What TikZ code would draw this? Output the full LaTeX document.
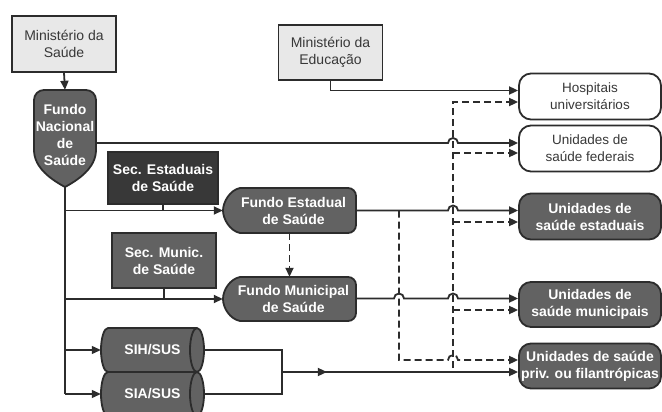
\documentclass[tikz,border=0pt]{standalone}
\usepackage{fontspec}
\setmainfont{Liberation Sans}
\usetikzlibrary{arrows.meta,calc,decorations.markings}
\definecolor{lin}{HTML}{2C2C2C}
\definecolor{lbox}{HTML}{E8E8E8}
\definecolor{dbox}{HTML}{626262}
\definecolor{vdbox}{HTML}{383838}
\definecolor{txt}{HTML}{383838}
\begin{document}
\begin{tikzpicture}[x=1pt,y=-1pt,
  every node/.style={align=center, inner sep=0pt},
  fnt/.style={font=\fontsize{14}{17}\selectfont},
  bfnt/.style={font=\bfseries\fontsize{14}{17}\selectfont},
  lightbox/.style={fnt, draw=lin, fill=lbox, line width=1.8pt, text=txt, minimum width=104pt, minimum height=56pt},
  secbox/.style={bfnt, draw=lin, line width=1.8pt, text=white},
  shapefill/.style={draw=lin, fill=dbox, line width=1.8pt},
  shapetext/.style={bfnt, text=white},
  unitbox/.style={draw=lin, line width=1.8pt, rounded corners=12pt, minimum width=142pt, minimum height=46pt},
  whiteunit/.style={unitbox, fill=white, text=txt, font=\fontsize{13.5}{17}\selectfont},
  darkunit/.style={unitbox, fill=dbox, text=white, bfnt},
  conn/.style={draw=lin, line width=1.8pt},
  thin/.style={draw=lin, line width=1.2pt},
  arr/.style={-{Triangle[length=9pt,width=8pt]}},
  dsh/.style={dash pattern=on 7pt off 4pt},
  midarrow/.style={postaction={decorate}, decoration={markings, mark=at position 0.19 with {\arrow{Triangle[length=9pt,width=8pt]}}}}
]
\clip (0,0) rectangle (662,412);
\fill[white] (0,0) rectangle (662,412);

% ---------- custom shapes ----------
% Fundo Nacional de Saude (shield)
\path[shapefill] (34,150) -- (34,100) arc[start angle=180,end angle=90,radius=10pt] -- (86,90)
  arc[start angle=90,end angle=0,radius=10pt] -- (96,150)
  .. controls (96,168) and (78,180) .. (65,187)
  .. controls (52,180) and (34,168) .. (34,150) -- cycle;
% Fundo Estadual
\path[shapefill] (240,188) -- (348,188) arc[start angle=90,end angle=0,radius=8pt] -- (356,225)
  arc[start angle=0,end angle=-90,radius=8pt] -- (240,233)
  .. controls (230,231) and (223,219) .. (223,210.5)
  .. controls (223,202) and (230,190) .. (240,188) -- cycle;
% Fundo Municipal
\path[shapefill] (240,277) -- (348,277) arc[start angle=90,end angle=0,radius=8pt] -- (356,313)
  arc[start angle=0,end angle=-90,radius=8pt] -- (240,321)
  .. controls (230,319) and (223,308) .. (223,299)
  .. controls (223,290) and (230,279) .. (240,277) -- cycle;
% cylinders SIH / SIA
\path[shapefill] (108,328) -- (197,328) arc[start angle=90,end angle=-90,x radius=7pt,y radius=22pt]
  -- (108,372) arc[start angle=270,end angle=90,x radius=7pt,y radius=22pt] -- cycle;
\draw[draw=lin, line width=1.8pt] (197,328) arc[start angle=90,end angle=270,x radius=7pt,y radius=22pt];
\path[shapefill] (108,372) -- (197,372) arc[start angle=90,end angle=-90,x radius=7pt,y radius=22pt]
  -- (108,416) arc[start angle=270,end angle=90,x radius=7pt,y radius=22pt] -- cycle;
\draw[draw=lin, line width=1.8pt] (197,372) arc[start angle=90,end angle=270,x radius=7pt,y radius=22pt];

% ---------- nodes ----------
\node[lightbox] (ms) at (64,44) {Ministério da\\Saúde};
\node[lightbox, minimum height=55pt] (me) at (330.5,52.5) {Ministério da\\Educação};
\node[shapetext, minimum width=62pt, minimum height=90pt] (fns) at (65,135) {Fundo\\Nacional\\de\\Saúde};
\coordinate (fnsb) at (65,187);
\node[secbox, fill=vdbox, minimum width=110pt, minimum height=52pt] (se) at (163,178) {Sec. Estaduais\\de Saúde};
\node[secbox, fill=dbox, minimum width=104pt, minimum height=55pt] (sm) at (164,260.5) {Sec. Munic.\\de Saúde};
\node[shapetext, minimum width=133pt, minimum height=45pt] (fe) at (289.5,210.5) {\hspace*{8pt}Fundo Estadual\\\hspace*{8pt}de Saúde};
\node[shapetext, minimum width=133pt, minimum height=44pt] (fm) at (289.5,299) {\hspace*{8pt}Fundo Municipal\\\hspace*{8pt}de Saúde};
\node[shapetext, minimum width=103pt, minimum height=44pt] (sih) at (152.5,350) {SIH/SUS};
\node[shapetext, minimum width=103pt, minimum height=44pt] (sia) at (152.5,394) {SIA/SUS};

\node[whiteunit] (hosp) at (590,96.5) {Hospitais\\universitários};
\node[whiteunit] (fed) at (590,148.5) {Unidades de\\saúde federais};
\node[darkunit] (est) at (590,216.5) {Unidades de\\saúde estaduais};
\node[darkunit, minimum height=45pt] (mun) at (590,304.5) {Unidades de\\saúde municipais};
\node[darkunit, minimum height=45pt] (priv) at (590,366) {Unidades de saúde\\priv. ou filantrópicas};

% lane coordinates
\coordinate (hospS) at ([yshift=6pt]hosp.west);
\coordinate (hospD) at ([yshift=-5.5pt]hosp.west);
\coordinate (fedS) at ([yshift=5.5pt]fed.west);
\coordinate (fedD) at ([yshift=-4.5pt]fed.west);
\coordinate (estS) at ([yshift=6pt]est.west);
\coordinate (estD) at ([yshift=-5.5pt]est.west);
\coordinate (munS) at ([yshift=6pt]mun.west);
\coordinate (munD) at ([yshift=-5.5pt]mun.west);
\coordinate (privD) at ([yshift=6pt]priv.west);
\coordinate (privS) at ([yshift=-6pt]priv.west);
\coordinate (dv) at (453,0);
\coordinate (dv2) at (399,0);
\coordinate (br) at (282,372);

% ---------- connectors ----------
\draw[conn, arr] (ms.south) -- (fns.north);
\draw[conn, arr] (me.south) |- (hospS);
\draw[conn, arr] (fns.east |- fedS) -- ($(dv |- fedS)+(-5,0)$) arc[start angle=180,end angle=0,radius=5pt] -- (fedS);
\draw[conn] (fnsb) -- (fnsb |- sia.west);
\draw[conn, arr] (fnsb |- fe.west) -- (fe.west);
\draw[conn, arr] (fnsb |- fm.west) -- (fm.west);
\draw[thin, arr] (fnsb |- sih.west) -- (sih.west);
\draw[thin, arr] (fnsb |- sia.west) -- (sia.west);
\draw[conn] (se.south) -- (se.south |- fe.west);
\draw[conn] (sm.south) -- (sm.south |- fm.west);
\draw[conn, dsh, arr] (fe.south) -- (fm.north);

\draw[conn, arr] (fe.east |- estS) -- ($(dv |- estS)+(-5,0)$) arc[start angle=180,end angle=0,radius=5pt] -- (estS);
\draw[conn, arr] (fm.east |- munS) -- ($(dv2 |- munS)+(-5,0)$) arc[start angle=180,end angle=0,radius=5pt]
  -- ($(dv |- munS)+(-5,0)$) arc[start angle=180,end angle=0,radius=5pt] -- (munS);

\draw[thin] (sih.east) -- (sih.east -| br) -- (sia.east -| br) -- (sia.east);
\draw[conn, arr, midarrow] (br) -- (privS);

% dashed distribution lines
\draw[conn, dsh, arr] ($(dv |- privS)+(0,-4)$) -- (dv |- hospD) -- (hospD);
\draw[conn, dsh, arr] (dv |- fedD) -- (fedD);
\draw[conn, dsh, arr] (dv |- estD) -- (estD);
\draw[conn, dsh, arr] (dv |- munD) -- (munD);
\draw[conn, dsh, arr] (dv2 |- estS) -- (dv2 |- privD) -- ($(dv |- privD)+(-5,0)$) arc[start angle=180,end angle=0,radius=5pt] -- (privD);
\end{tikzpicture}
\end{document}
